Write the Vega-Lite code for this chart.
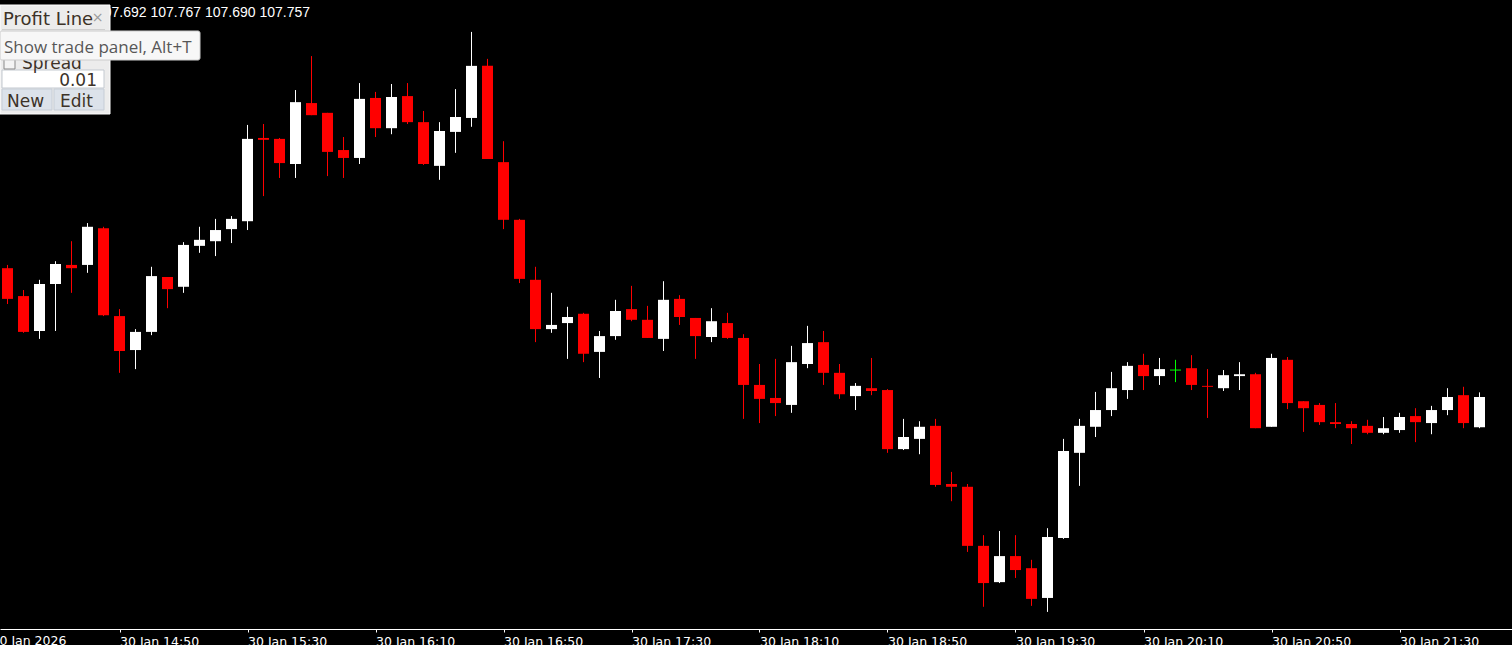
{
  "$schema": "https://vega.github.io/schema/vega-lite/v6.json",
  "width": 1512,
  "height": 629,
  "autosize": {"type": "none"},
  "padding": {"left": 0, "top": 0, "right": 0, "bottom": 16},
  "background": "#000000",
  "config": {"view": {"stroke": null}},
  "datasets": {
    "candles": [
      {"t":"2026-01-30T14:15:00Z","o":108.034,"h":108.041,"l":107.957,"c":107.968},
      {"t":"2026-01-30T14:20:00Z","o":107.974,"h":107.987,"l":107.895,"c":107.897},
      {"t":"2026-01-30T14:25:00Z","o":107.899,"h":108.009,"l":107.882,"c":108.000},
      {"t":"2026-01-30T14:30:00Z","o":108.000,"h":108.049,"l":107.899,"c":108.043},
      {"t":"2026-01-30T14:35:00Z","o":108.041,"h":108.092,"l":107.981,"c":108.034},
      {"t":"2026-01-30T14:40:00Z","o":108.041,"h":108.131,"l":108.024,"c":108.123},
      {"t":"2026-01-30T14:45:00Z","o":108.120,"h":108.123,"l":107.931,"c":107.933},
      {"t":"2026-01-30T14:50:00Z","o":107.931,"h":107.946,"l":107.809,"c":107.856},
      {"t":"2026-01-30T14:55:00Z","o":107.858,"h":107.903,"l":107.817,"c":107.897},
      {"t":"2026-01-30T15:00:00Z","o":107.897,"h":108.037,"l":107.890,"c":108.017},
      {"t":"2026-01-30T15:05:00Z","o":108.015,"h":108.015,"l":107.948,"c":107.989},
      {"t":"2026-01-30T15:10:00Z","o":107.994,"h":108.090,"l":107.981,"c":108.084},
      {"t":"2026-01-30T15:15:00Z","o":108.082,"h":108.123,"l":108.067,"c":108.095},
      {"t":"2026-01-30T15:20:00Z","o":108.092,"h":108.140,"l":108.060,"c":108.116},
      {"t":"2026-01-30T15:25:00Z","o":108.118,"h":108.146,"l":108.088,"c":108.140},
      {"t":"2026-01-30T15:30:00Z","o":108.135,"h":108.342,"l":108.116,"c":108.312},
      {"t":"2026-01-30T15:35:00Z","o":108.314,"h":108.344,"l":108.189,"c":108.310},
      {"t":"2026-01-30T15:40:00Z","o":108.312,"h":108.314,"l":108.228,"c":108.260},
      {"t":"2026-01-30T15:45:00Z","o":108.258,"h":108.417,"l":108.228,"c":108.391},
      {"t":"2026-01-30T15:50:00Z","o":108.389,"h":108.490,"l":108.363,"c":108.363},
      {"t":"2026-01-30T15:55:00Z","o":108.368,"h":108.368,"l":108.232,"c":108.284},
      {"t":"2026-01-30T16:00:00Z","o":108.288,"h":108.316,"l":108.228,"c":108.271},
      {"t":"2026-01-30T16:05:00Z","o":108.271,"h":108.432,"l":108.258,"c":108.398},
      {"t":"2026-01-30T16:10:00Z","o":108.400,"h":108.413,"l":108.316,"c":108.335},
      {"t":"2026-01-30T16:15:00Z","o":108.335,"h":108.430,"l":108.322,"c":108.402},
      {"t":"2026-01-30T16:20:00Z","o":108.404,"h":108.432,"l":108.344,"c":108.348},
      {"t":"2026-01-30T16:25:00Z","o":108.348,"h":108.372,"l":108.256,"c":108.258},
      {"t":"2026-01-30T16:30:00Z","o":108.254,"h":108.348,"l":108.224,"c":108.329},
      {"t":"2026-01-30T16:35:00Z","o":108.327,"h":108.419,"l":108.282,"c":108.359},
      {"t":"2026-01-30T16:40:00Z","o":108.357,"h":108.542,"l":108.338,"c":108.469},
      {"t":"2026-01-30T16:45:00Z","o":108.469,"h":108.484,"l":108.269,"c":108.269},
      {"t":"2026-01-30T16:50:00Z","o":108.262,"h":108.307,"l":108.118,"c":108.138},
      {"t":"2026-01-30T16:55:00Z","o":108.138,"h":108.140,"l":108.002,"c":108.011},
      {"t":"2026-01-30T17:00:00Z","o":108.009,"h":108.037,"l":107.875,"c":107.903},
      {"t":"2026-01-30T17:05:00Z","o":107.903,"h":107.981,"l":107.895,"c":107.912},
      {"t":"2026-01-30T17:10:00Z","o":107.916,"h":107.951,"l":107.839,"c":107.929},
      {"t":"2026-01-30T17:15:00Z","o":107.936,"h":107.938,"l":107.832,"c":107.850},
      {"t":"2026-01-30T17:20:00Z","o":107.854,"h":107.899,"l":107.798,"c":107.888},
      {"t":"2026-01-30T17:25:00Z","o":107.888,"h":107.966,"l":107.880,"c":107.942},
      {"t":"2026-01-30T17:30:00Z","o":107.946,"h":107.996,"l":107.920,"c":107.923},
      {"t":"2026-01-30T17:35:00Z","o":107.923,"h":107.953,"l":107.884,"c":107.884},
      {"t":"2026-01-30T17:40:00Z","o":107.882,"h":108.006,"l":107.856,"c":107.966},
      {"t":"2026-01-30T17:45:00Z","o":107.968,"h":107.976,"l":107.912,"c":107.929},
      {"t":"2026-01-30T17:50:00Z","o":107.927,"h":107.927,"l":107.839,"c":107.888},
      {"t":"2026-01-30T17:55:00Z","o":107.886,"h":107.948,"l":107.875,"c":107.920},
      {"t":"2026-01-30T18:00:00Z","o":107.916,"h":107.938,"l":107.882,"c":107.884},
      {"t":"2026-01-30T18:05:00Z","o":107.884,"h":107.892,"l":107.710,"c":107.783},
      {"t":"2026-01-30T18:10:00Z","o":107.783,"h":107.828,"l":107.701,"c":107.753},
      {"t":"2026-01-30T18:15:00Z","o":107.755,"h":107.839,"l":107.716,"c":107.744},
      {"t":"2026-01-30T18:20:00Z","o":107.740,"h":107.867,"l":107.723,"c":107.832},
      {"t":"2026-01-30T18:25:00Z","o":107.828,"h":107.910,"l":107.819,"c":107.873},
      {"t":"2026-01-30T18:30:00Z","o":107.875,"h":107.899,"l":107.783,"c":107.809},
      {"t":"2026-01-30T18:35:00Z","o":107.809,"h":107.828,"l":107.753,"c":107.763},
      {"t":"2026-01-30T18:40:00Z","o":107.759,"h":107.787,"l":107.729,"c":107.781},
      {"t":"2026-01-30T18:45:00Z","o":107.776,"h":107.841,"l":107.761,"c":107.770},
      {"t":"2026-01-30T18:50:00Z","o":107.772,"h":107.774,"l":107.637,"c":107.645},
      {"t":"2026-01-30T18:55:00Z","o":107.645,"h":107.710,"l":107.643,"c":107.671},
      {"t":"2026-01-30T19:00:00Z","o":107.667,"h":107.705,"l":107.634,"c":107.693},
      {"t":"2026-01-30T19:05:00Z","o":107.695,"h":107.710,"l":107.564,"c":107.568},
      {"t":"2026-01-30T19:10:00Z","o":107.570,"h":107.596,"l":107.533,"c":107.564},
      {"t":"2026-01-30T19:15:00Z","o":107.564,"h":107.570,"l":107.424,"c":107.437},
      {"t":"2026-01-30T19:20:00Z","o":107.437,"h":107.460,"l":107.306,"c":107.357},
      {"t":"2026-01-30T19:25:00Z","o":107.359,"h":107.469,"l":107.357,"c":107.415},
      {"t":"2026-01-30T19:30:00Z","o":107.415,"h":107.460,"l":107.368,"c":107.385},
      {"t":"2026-01-30T19:35:00Z","o":107.389,"h":107.407,"l":107.308,"c":107.323},
      {"t":"2026-01-30T19:40:00Z","o":107.325,"h":107.475,"l":107.295,"c":107.456},
      {"t":"2026-01-30T19:45:00Z","o":107.454,"h":107.667,"l":107.452,"c":107.641},
      {"t":"2026-01-30T19:50:00Z","o":107.637,"h":107.710,"l":107.566,"c":107.695},
      {"t":"2026-01-30T19:55:00Z","o":107.693,"h":107.768,"l":107.671,"c":107.729},
      {"t":"2026-01-30T20:00:00Z","o":107.729,"h":107.811,"l":107.716,"c":107.776},
      {"t":"2026-01-30T20:05:00Z","o":107.772,"h":107.832,"l":107.753,"c":107.824},
      {"t":"2026-01-30T20:10:00Z","o":107.826,"h":107.850,"l":107.772,"c":107.802},
      {"t":"2026-01-30T20:15:00Z","o":107.802,"h":107.841,"l":107.783,"c":107.817},
      {"t":"2026-01-30T20:20:00Z","o":107.815,"h":107.837,"l":107.789,"c":107.815},
      {"t":"2026-01-30T20:25:00Z","o":107.819,"h":107.847,"l":107.772,"c":107.783},
      {"t":"2026-01-30T20:30:00Z","o":107.781,"h":107.817,"l":107.712,"c":107.779},
      {"t":"2026-01-30T20:35:00Z","o":107.776,"h":107.815,"l":107.770,"c":107.804},
      {"t":"2026-01-30T20:40:00Z","o":107.802,"h":107.832,"l":107.772,"c":107.806},
      {"t":"2026-01-30T20:45:00Z","o":107.806,"h":107.809,"l":107.690,"c":107.690},
      {"t":"2026-01-30T20:50:00Z","o":107.693,"h":107.850,"l":107.693,"c":107.841},
      {"t":"2026-01-30T20:55:00Z","o":107.837,"h":107.843,"l":107.731,"c":107.744},
      {"t":"2026-01-30T21:00:00Z","o":107.748,"h":107.748,"l":107.682,"c":107.733},
      {"t":"2026-01-30T21:05:00Z","o":107.740,"h":107.744,"l":107.697,"c":107.703},
      {"t":"2026-01-30T21:10:00Z","o":107.703,"h":107.744,"l":107.690,"c":107.699},
      {"t":"2026-01-30T21:15:00Z","o":107.699,"h":107.705,"l":107.656,"c":107.690},
      {"t":"2026-01-30T21:20:00Z","o":107.695,"h":107.708,"l":107.677,"c":107.680},
      {"t":"2026-01-30T21:25:00Z","o":107.680,"h":107.714,"l":107.677,"c":107.690},
      {"t":"2026-01-30T21:30:00Z","o":107.686,"h":107.723,"l":107.680,"c":107.714},
      {"t":"2026-01-30T21:35:00Z","o":107.716,"h":107.733,"l":107.660,"c":107.703},
      {"t":"2026-01-30T21:40:00Z","o":107.701,"h":107.738,"l":107.677,"c":107.729},
      {"t":"2026-01-30T21:45:00Z","o":107.729,"h":107.776,"l":107.718,"c":107.757},
      {"t":"2026-01-30T21:50:00Z","o":107.761,"h":107.779,"l":107.690,"c":107.701},
      {"t":"2026-01-30T21:55:00Z","o":107.692,"h":107.767,"l":107.690,"c":107.757}
    ]
  },
  "layer": [
    {
      "data": {"name": "candles"},
      "mark": {"type": "rule", "strokeWidth": 1},
      "encoding": {
        "x": {
          "field": "t", "type": "temporal",
          "scale": {"type": "utc", "nice": false, "padding": 0, "domain": [
            {"year": 2026, "month": 1, "date": 30, "hours": 14, "minutes": 12, "seconds": 39, "milliseconds": 375, "utc": true},
            {"year": 2026, "month": 1, "date": 30, "hours": 22, "minutes": 5, "seconds": 9, "milliseconds": 375, "utc": true}
          ]},
          "axis": {
            "orient": "bottom",
            "title": null,
            "grid": false,
            "values": [
              {"year": 2026, "month": 1, "date": 30, "hours": 14, "minutes": 50, "utc": true},
              {"year": 2026, "month": 1, "date": 30, "hours": 15, "minutes": 30, "utc": true},
              {"year": 2026, "month": 1, "date": 30, "hours": 16, "minutes": 10, "utc": true},
              {"year": 2026, "month": 1, "date": 30, "hours": 16, "minutes": 50, "utc": true},
              {"year": 2026, "month": 1, "date": 30, "hours": 17, "minutes": 30, "utc": true},
              {"year": 2026, "month": 1, "date": 30, "hours": 18, "minutes": 10, "utc": true},
              {"year": 2026, "month": 1, "date": 30, "hours": 18, "minutes": 50, "utc": true},
              {"year": 2026, "month": 1, "date": 30, "hours": 19, "minutes": 30, "utc": true},
              {"year": 2026, "month": 1, "date": 30, "hours": 20, "minutes": 10, "utc": true},
              {"year": 2026, "month": 1, "date": 30, "hours": 20, "minutes": 50, "utc": true},
              {"year": 2026, "month": 1, "date": 30, "hours": 21, "minutes": 30, "utc": true}
            ],
            "labelExpr": "'30 Jan ' + utcFormat(datum.value, '%H:%M')",
            "labelColor": "#ffffff",
            "labelFont": "DejaVu Sans",
            "labelFontSize": 12.5,
            "labelAlign": "left",
            "labelBaseline": "top",
            "labelPadding": 3,
            "labelOverlap": false,
            "labelBound": false,
            "labelFlush": false,
            "tickColor": "#ffffff",
            "tickSize": 3,
            "tickWidth": 1,
            "domainColor": "#ffffff",
            "domainWidth": 1
          }
        },
        "y": {
          "field": "l", "type": "quantitative",
          "scale": {"domain": [107.25825, 108.6106], "zero": false, "nice": false, "padding": 0},
          "axis": null
        },
        "y2": {"field": "h"},
        "color": {
          "condition": [
            {"test": "datum.c > datum.o", "value": "#ffffff"},
            {"test": "datum.c == datum.o", "value": "#00ff00"}
          ],
          "value": "#ff0000"
        }
      }
    },
    {
      "data": {"name": "candles"},
      "mark": {"type": "bar", "width": 11},
      "encoding": {
        "x": {"field": "t", "type": "temporal"},
        "y": {"field": "o", "type": "quantitative"},
        "y2": {"field": "c"},
        "color": {
          "condition": [
            {"test": "datum.c > datum.o", "value": "#ffffff"},
            {"test": "datum.c == datum.o", "value": "#00ff00"}
          ],
          "value": "#ff0000"
        }
      }
    },
    {
      "data": {"name": "candles"},
      "transform": [{"filter": "datum.c == datum.o"}],
      "mark": {"type": "tick", "orient": "horizontal", "size": 11, "thickness": 1, "opacity": 1, "color": "#00ff00"},
      "encoding": {
        "x": {"field": "t", "type": "temporal"},
        "y": {"field": "o", "type": "quantitative"}
      }
    },
    {
      "data": {"values": [{"t": "2026-01-30T14:10:00Z", "p": 107.24535, "label": "30 Jan 2026"}]},
      "mark": {"type": "text", "align": "left", "baseline": "top", "font": "DejaVu Sans", "fontSize": 12.5, "color": "#ffffff"},
      "encoding": {
        "x": {"field": "t", "type": "temporal"},
        "y": {"field": "p", "type": "quantitative"},
        "text": {"field": "label"}
      }
    },
    {
      "data": {"values": [{"t": "2026-01-30T15:49:31.875Z", "p": 108.57405, "label": "107.692 107.767 107.690 107.757"}]},
      "mark": {"type": "text", "align": "right", "baseline": "alphabetic", "font": "Liberation Sans", "fontSize": 14, "color": "#ffffff"},
      "encoding": {
        "x": {"field": "t", "type": "temporal"},
        "y": {"field": "p", "type": "quantitative"},
        "text": {"field": "label"}
      }
    },
    {
      "data": {"values": [{"t": "2026-01-30T14:12:39.375Z", "t2": "2026-01-30T14:47:01.875Z", "p": 108.59985, "p2": 108.3655}]},
      "mark": {"type": "rect", "fill": "#ececec", "stroke": "#ffffff", "strokeWidth": 1},
      "encoding": {
        "x": {"field": "t", "type": "temporal"}, "x2": {"field": "t2"},
        "y": {"field": "p", "type": "quantitative"}, "y2": {"field": "p2"}
      }
    },
    {
      "data": {"values": [{"t": "2026-01-30T14:13:16.875Z", "t2": "2026-01-30T14:45:28.125Z", "p": 108.54825, "p2": 108.5461}]},
      "mark": {"type": "rect", "fill": "#cfcfcf"},
      "encoding": {
        "x": {"field": "t", "type": "temporal"}, "x2": {"field": "t2"},
        "y": {"field": "p", "type": "quantitative"}, "y2": {"field": "p2"}
      }
    },
    {
      "data": {"values": [{"t": "2026-01-30T14:13:16.875Z", "t2": "2026-01-30T14:45:09.375Z", "p": 108.4601, "p2": 108.4214}]},
      "mark": {"type": "rect", "fill": "#ffffff", "stroke": "#c3c9d0", "strokeWidth": 1},
      "encoding": {
        "x": {"field": "t", "type": "temporal"}, "x2": {"field": "t2"},
        "y": {"field": "p", "type": "quantitative"}, "y2": {"field": "p2"}
      }
    },
    {
      "data": {"values": [
        {"t": "2026-01-30T14:13:16.875Z", "t2": "2026-01-30T14:28:54.375Z", "p": 108.41925, "p2": 108.3741},
        {"t": "2026-01-30T14:29:31.875Z", "t2": "2026-01-30T14:45:09.375Z", "p": 108.41925, "p2": 108.3741}
      ]},
      "mark": {"type": "rect", "fill": "#dce2ea", "stroke": "#c6cdd6", "strokeWidth": 1},
      "encoding": {
        "x": {"field": "t", "type": "temporal"}, "x2": {"field": "t2"},
        "y": {"field": "p", "type": "quantitative"}, "y2": {"field": "p2"}
      }
    },
    {
      "data": {"values": [{"t": "2026-01-30T14:13:54.375Z", "t2": "2026-01-30T14:17:20.625Z", "p": 108.4859, "p2": 108.4623}]},
      "mark": {"type": "rect", "fill": "#f4f4f4", "stroke": "#8a8a8a", "strokeWidth": 1},
      "encoding": {
        "x": {"field": "t", "type": "temporal"}, "x2": {"field": "t2"},
        "y": {"field": "p", "type": "quantitative"}, "y2": {"field": "p2"}
      }
    },
    {
      "data": {"values": [{"t": "2026-01-30T14:13:35.625Z", "p": 108.55685, "label": "Profit Line"}]},
      "mark": {"type": "text", "align": "left", "baseline": "alphabetic", "font": "DejaVu Sans", "fontSize": 18, "color": "#3c3228"},
      "encoding": {
        "x": {"field": "t", "type": "temporal"},
        "y": {"field": "p", "type": "quantitative"},
        "text": {"field": "label"}
      }
    },
    {
      "data": {"values": [{"t": "2026-01-30T14:43:07.5Z", "p": 108.5633, "label": "×"}]},
      "mark": {"type": "text", "align": "center", "baseline": "alphabetic", "font": "DejaVu Sans", "fontSize": 14, "color": "#9a9a9a"},
      "encoding": {
        "x": {"field": "t", "type": "temporal"},
        "y": {"field": "p", "type": "quantitative"},
        "text": {"field": "label"}
      }
    },
    {
      "data": {"values": [
        {"t": "2026-01-30T14:19:31.875Z", "p": 108.46225, "label": "Spread"},
        {"t": "2026-01-30T14:14:50.625Z", "p": 108.38055, "label": "New"},
        {"t": "2026-01-30T14:31:24.375Z", "p": 108.38055, "label": "Edit"}
      ]},
      "mark": {"type": "text", "align": "left", "baseline": "alphabetic", "font": "DejaVu Sans", "fontSize": 17, "color": "#3c3228"},
      "encoding": {
        "x": {"field": "t", "type": "temporal"},
        "y": {"field": "p", "type": "quantitative"},
        "text": {"field": "label"}
      }
    },
    {
      "data": {"values": [{"t": "2026-01-30T14:42:58.125Z", "p": 108.4257, "label": "0.01"}]},
      "mark": {"type": "text", "align": "right", "baseline": "alphabetic", "font": "DejaVu Sans", "fontSize": 17, "color": "#3c3228"},
      "encoding": {
        "x": {"field": "t", "type": "temporal"},
        "y": {"field": "p", "type": "quantitative"},
        "text": {"field": "label"}
      }
    },
    {
      "data": {"values": [{"t": "2026-01-30T14:12:39.375Z", "t2": "2026-01-30T15:15:09.375Z", "p": 108.54395, "p2": 108.4816}]},
      "mark": {"type": "rect", "fill": "#f7f7f7", "stroke": "#cccccc", "strokeWidth": 1, "cornerRadius": 2},
      "encoding": {
        "x": {"field": "t", "type": "temporal"}, "x2": {"field": "t2"},
        "y": {"field": "p", "type": "quantitative"}, "y2": {"field": "p2"}
      }
    },
    {
      "data": {"values": [{"t": "2026-01-30T14:13:54.375Z", "p": 108.49665, "label": "Show trade panel, Alt+T"}]},
      "mark": {"type": "text", "align": "left", "baseline": "alphabetic", "font": "Open Sans", "fontSize": 17, "color": "#575757"},
      "encoding": {
        "x": {"field": "t", "type": "temporal"},
        "y": {"field": "p", "type": "quantitative"},
        "text": {"field": "label"}
      }
    }
  ]
}
